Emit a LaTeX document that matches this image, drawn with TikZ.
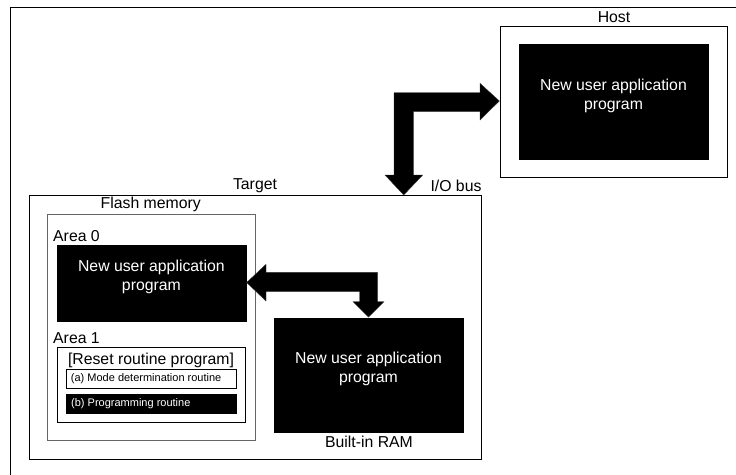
\documentclass[tikz,border=0pt]{standalone}
\usepackage{fontspec}
\setmainfont{Liberation Sans}
\usetikzlibrary{fit}
\begin{document}
\begin{tikzpicture}[x=1pt,y=-1pt,
  frame/.style={draw=black, line width=0.9pt, inner sep=0pt},
  grayframe/.style={draw=black!60, line width=1pt, inner sep=0pt},
  blackbox/.style={fill=black, draw=black, inner sep=0pt, text=white, align=center,
    font=\fontsize{15.8}{19.3}\selectfont},
  lbl/.style={inner sep=0pt, font=\fontsize{15.8}{19}\selectfont},
  small/.style={inner sep=0pt, font=\fontsize{11}{13}\selectfont},
  blockarrow/.style={fill=black, draw=black!80, line width=0.4pt, line join=miter}]
\useasboundingbox (0,0) rectangle (736,474);
% outer frame (only top and left visible)
\coordinate (otl) at (10,7);
\coordinate (otr) at (740,7);
\coordinate (obl) at (10,480);
\draw[line width=1pt] (otr) -- (otl) -- (obl);

% Host
\node[frame, fit={(500,26) (727,177)}] (host) {};
\node[blackbox, fit={(519,44) (708,159)}] (hostprog) {New user application\\program};
\node[lbl] (hostlbl) at (614,16.7) {Host};

% Target
\node[frame, fit={(29,195.3) (481.7,459.3)}] (target) {};
\node[lbl] (targetlbl) at (255,185.7) {Target};
\node[lbl] (iobus) at (456,185.7) {I/O bus};

% Flash memory
\node[grayframe, fit={(47,214.3) (255,440.3)}] (flash) {};
\node[lbl] (flashlbl) at (150.7,204.7) {Flash memory};
\node[lbl, anchor=west] (area0lbl) at (53,235.7) {Area 0};
\node[blackbox, fit={(56.8,245) (246,320.7)}] (area0) {New user application\\program};
\node[lbl, anchor=west] (area1lbl) at (53,337.7) {Area 1};
\node[frame, fit={(57.3,347) (245.5,422.3)}] (area1) {};
\node[lbl] (resetlbl) at (151,360.7) {[Reset routine program]};
\node[frame, fit={(66.2,369.3) (236.6,388.3)}] (abox) {};
\node[small, anchor=west] (atext) at ([xshift=5pt]abox.west) {(a) Mode determination routine};
\node[fill=black, draw=black, inner sep=0pt, fit={(66.2,394) (236.6,413.3)}] (bbox) {};
\node[small, anchor=west, text=white] (btext) at ([xshift=5pt]bbox.west) {(b) Programming routine};

% Built-in RAM
\node[blackbox, fit={(274,317.7) (463,431.7)}] (ram) {New user application\\program};
\node[lbl] (ramlbl) at (369,441.7) {Built-in RAM};

% I/O bus block arrow (host <-> target)
\path[blockarrow]
  (499.3,101) -- (480,83.3) -- (480,92.7) -- (394,92.7) -- (394,175)
  -- (385,175) -- (403.7,195) -- (422.7,175) -- (413.3,175) -- (413.3,111.7)
  -- (480,111.7) -- (480,120) -- cycle;

% internal block arrow (area 0 <-> RAM)
\path[blockarrow]
  (246.7,282.5) -- (266,264.3) -- (266,272.3) -- (377.5,272.3) -- (377.5,301.7)
  -- (384,301.7) -- (368.5,317) -- (353,301.7) -- (359.5,301.7) -- (359.5,291.7)
  -- (266,291.7) -- (266,301) -- cycle;
\end{tikzpicture}
\end{document}
